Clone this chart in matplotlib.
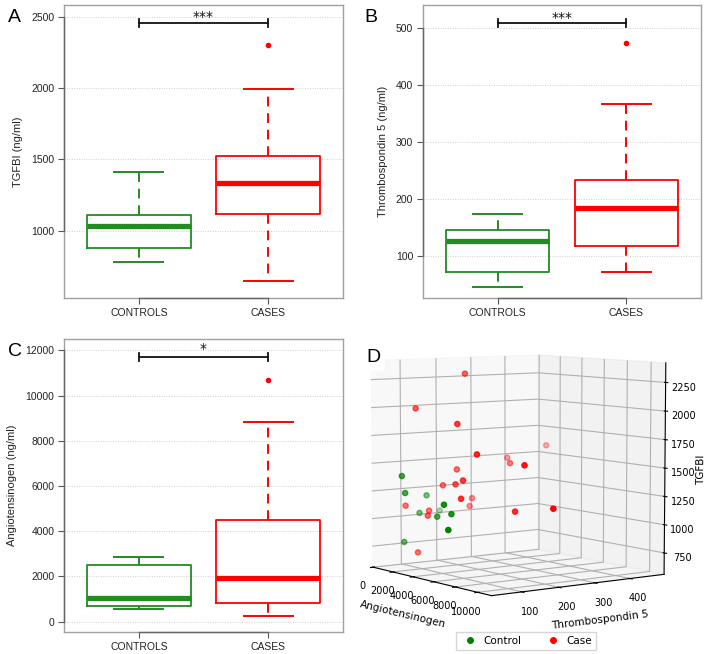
import matplotlib
matplotlib.use("Agg")
import matplotlib.pyplot as plt
import numpy as np
from matplotlib.lines import Line2D

# ---------------- data ----------------
groups = ["CONTROLS", "CASES"]

# boxplot summaries: [whislo, q1, med, q3, whishi]
tgfbi_ctrl = [783, 882, 1030, 1112, 1408]
tgfbi_case = [647, 1115, 1333, 1524, 1994]
tgfbi_out_case = [2300]

thbs_ctrl = [47, 73, 127, 147, 175]
thbs_case = [73, 119, 185, 234, 367]
thbs_out_case = [474]

agt_ctrl = [562, 695, 1070, 2509, 2850]
agt_case = [265, 827, 1950, 4487, 8830]
agt_out_case = [10680]

sig_A = "***"
sig_B = "***"
sig_C = "*"

# 3D scatter data (Angiotensinogen, Thrombospondin 5, TGFBI)
ctrl_agt = [560, 650, 700, 1000, 900, 1100, 2400, 1800, 2600, 2850]
ctrl_thbs = [85, 88, 90, 141, 124, 175, 150, 148, 165, 149]
ctrl_tgfbi = [1378, 780, 1225, 1195, 1038, 1048, 1130, 1012, 1044, 910]

case_agt = [2600, 1400, 4480, 6500, 1500, 1300, 3000, 8820, 2100, 1600, 3600,
            5000, 900, 5500, 700, 260, 1100, 1800, 7500, 10680, 830]
case_thbs = [204, 101, 128, 122, 474, 364, 320, 181, 195, 170, 148,
             128, 273, 108, 272, 103, 145, 122, 196, 201, 121]
case_tgfbi = [2300, 1994, 1883, 1643, 1585, 1490, 1473, 1567, 1433, 1288, 1333,
              1393, 1131, 1246, 1055, 1099, 1056, 1029, 1142, 1220, 677]

GREEN = "#228B22"
RED = "#FF0000"
FONT = "Liberation Sans"

W, H = 708, 654
fig = plt.figure(figsize=(W / 100, H / 100), dpi=100)


def px_axes(x0, y0, x1, y1, **kw):
    return fig.add_axes([x0 / W, 1 - y1 / H, (x1 - x0) / W, (y1 - y0) / H], **kw)


def box_panel(ax, ctrl, case, outs, ylim, yticks, ylabel, sig, sig_y, star_y, cap_h):
    stats = []
    for s, fl in ((ctrl, []), (case, outs)):
        stats.append(dict(whislo=s[0], q1=s[1], med=s[2], q3=s[3], whishi=s[4], fliers=fl))
    colors = [GREEN, RED]
    for i, (st, c) in enumerate(zip(stats, colors)):
        ax.bxp([st], positions=[i + 1], widths=0.8, capwidths=0.38, showfliers=True,
               boxprops=dict(color=c, linewidth=1.3),
               whiskerprops=dict(color=c, linewidth=1.4, linestyle=(0, (5, 3.5))),
               capprops=dict(color=c, linewidth=1.4),
               medianprops=dict(color=c, linewidth=3.8, solid_capstyle="butt"),
               flierprops=dict(marker="o", markerfacecolor=c, markeredgecolor=c, markersize=3),
               zorder=3)
    ax.set_xlim(0.42, 2.58)
    ax.set_ylim(*ylim)
    ax.set_yticks(yticks)
    ax.set_yticklabels([str(t) for t in yticks], fontsize=7.5, family=FONT, color="#222222")
    ax.set_xticks([1, 2])
    ax.set_xticklabels(groups, fontsize=7.5, family=FONT, color="#222222")
    ax.tick_params(axis="both", direction="out", length=4, width=0.8, colors="#555555",
                   labelcolor="#222222", pad=3)
    for sp in ax.spines.values():
        sp.set_color("#a0a0a0")
        sp.set_linewidth(1.0)
    # R-style axis lines between first and last tick
    ax.plot([1, 2], [ylim[0], ylim[0]], color="#666666", lw=1.0, clip_on=False, zorder=5)
    ax.plot([0.42, 0.42], [yticks[0], yticks[-1]], color="#666666", lw=1.0, clip_on=False, zorder=5)
    for t in yticks:
        ax.axhline(t, color="#d0d0d0", lw=0.7, linestyle=(0, (1, 1.5)), zorder=1)
    ax.set_ylabel(ylabel, fontsize=8, family=FONT, color="#222222", labelpad=6)
    # significance bar
    ax.plot([1, 2], [sig_y, sig_y], color="#111111", lw=1.3, zorder=4, clip_on=False)
    for xx in (1, 2):
        ax.plot([xx, xx], [sig_y - cap_h, sig_y + cap_h], color="#111111", lw=1.3, zorder=4,
                clip_on=False)
    ax.text(1.5, star_y, sig, ha="center", va="center", fontsize=10, family="DejaVu Sans",
            color="#111111")


# ---------------- 3D panel (drawn first, transparent background) ----------------
ax3 = fig.add_axes([0.4717, 0.009, 0.502, 0.540], projection="3d")
ax3.set_facecolor("none")
ax3.scatter(ctrl_agt, ctrl_thbs, ctrl_tgfbi, color="green", s=14, label="Control")
ax3.scatter(case_agt, case_thbs, case_tgfbi, color="red", s=14, label="Case")
ax3.view_init(elev=6, azim=-36)
ax3.set_box_aspect((4, 4, 4))
ax3.set_xlim(-100, 11200)
ax3.set_ylim(20, 500)
ax3.set_zlim(560, 2420)
ax3.set_xticks([0, 2000, 4000, 6000, 8000, 10000])
ax3.set_yticks([100, 200, 300, 400])
ax3.set_zticks([750, 1000, 1250, 1500, 1750, 2000, 2250])
ax3.tick_params(labelsize=7, pad=0)
ax3.set_xlabel("Angiotensinogen", fontsize=7.5, labelpad=-2)
ax3.set_ylabel("Thrombospondin 5", fontsize=7.5, labelpad=-2)
ax3.set_zlabel("TGFBI", fontsize=7.5, labelpad=-5)

axA = px_axes(64, 5, 343, 298)
box_panel(axA, tgfbi_ctrl, tgfbi_case, tgfbi_out_case, (528, 2582),
          [1000, 1500, 2000, 2500], "TGFBI (ng/ml)", sig_A, 2454, 2500, 28)

axB = px_axes(423, 5, 701, 298)
box_panel(axB, thbs_ctrl, thbs_case, thbs_out_case, (27, 541),
          [100, 200, 300, 400, 500], "Thrombospondin 5 (ng/ml)", sig_B, 509, 518, 7)

axC = px_axes(64, 339, 343, 632)
box_panel(axC, agt_ctrl, agt_case, agt_out_case, (-456, 12504),
          [0, 2000, 4000, 6000, 8000, 10000, 12000], "Angiotensinogen (ng/ml)", sig_C,
          11708, 12080, 180)

handles = [Line2D([], [], marker="o", color="w", markerfacecolor="green", markeredgecolor="green",
                  markersize=4, label="Control"),
           Line2D([], [], marker="o", color="w", markerfacecolor="red", markeredgecolor="red",
                  markersize=4, label="Case")]
fig.legend(handles=handles, loc="center", bbox_to_anchor=(526 / W, 1 - 641 / H), ncol=2,
           fontsize=7.5, frameon=True, handletextpad=0.3, columnspacing=2.0,
           borderpad=0.4, fancybox=False)

# panel letters
for lab, (x, y) in zip("ABCD", [(8, 22), (364, 22), (8, 356), (366, 362)]):
    fig.text(x / W, 1 - y / H, lab, fontsize=14, family=FONT, color="black", ha="left",
             va="baseline",
             bbox=dict(facecolor="white", edgecolor="none", pad=2,
                       boxstyle="round,pad=0.25") if lab == "D" else None)

fig.savefig("out.png", dpi=100)
